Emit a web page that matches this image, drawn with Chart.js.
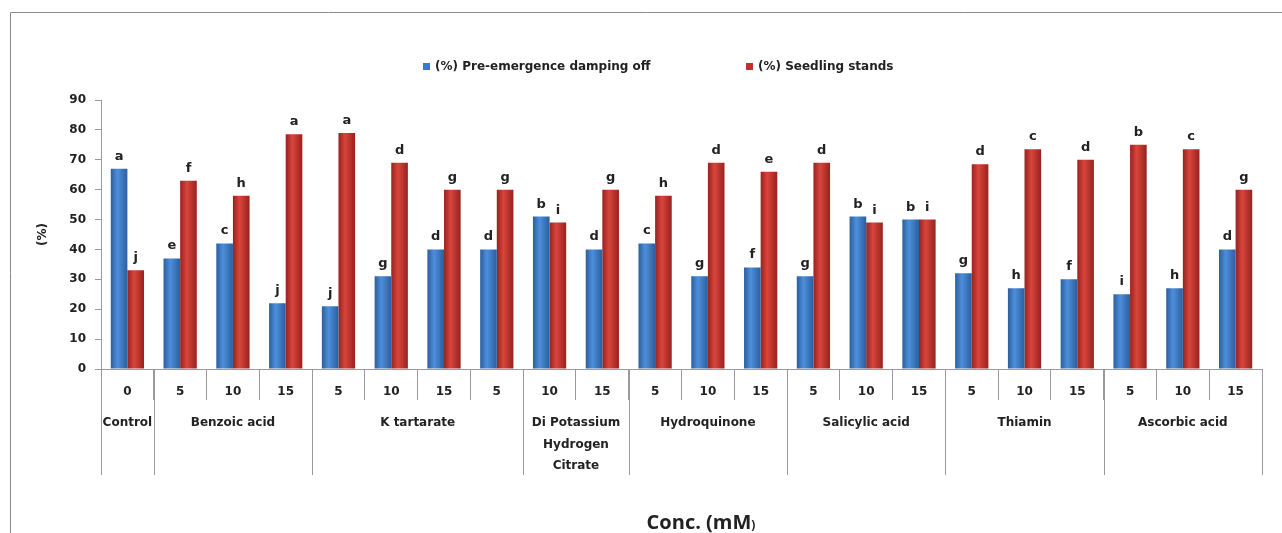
<!DOCTYPE html>
<html><head><meta charset="utf-8">
<script src="https://cdn.jsdelivr.net/npm/chart.js@4/dist/chart.umd.min.js"></script>
<style>html,body{margin:0;padding:0;background:#fff}#wrap{width:1282px;height:533px;position:relative}</style>
</head><body><div id="wrap"><canvas id="c" width="1282" height="533"></canvas></div>
<script>
// ---- data ----
const doses = ['0','5','10','15','5','10','15','5','10','15','5','10','15','5','10','15','5','10','15','5','10','15'];
const groupNames = [['Control'],['Benzoic acid'],['K tartarate'],['Di Potassium','Hydrogen','Citrate'],['Hydroquinone'],['Salicylic acid'],['Thiamin'],['Ascorbic acid']];
const groupSizes = [1,3,4,2,3,3,3,3];
const seriesNames = ['(%) Pre-emergence damping off','(%) Seedling stands'];
const dampingOff = [67,37,42,22,21,31,40,40,51,40,42,31,34,31,51,50,32,27,30,25,27,40];
const seedlingStands = [33,63,58,78.5,79,69,60,60,49,60,58,69,66,69,49,50,68.5,73.5,70,75,73.5,60];
const dampingLetters = ['a','e','c','j','j','g','d','d','b','d','c','g','f','g','b','b','g','h','f','i','h','d'];
const standLetters = ['j','f','h','a','a','d','g','g','i','g','h','d','e','d','i','i','d','c','d','b','c','g'];
const yMin = 0, yMax = 90, yStep = 10;
const yTitle = '(%)';
const xTitle = 'Conc. (mM';
const xTitleTail = ')';

const CAT_PCT = 0.63;
const FONT = '"DejaVu Sans", sans-serif';
const TXT = '#222';
const GRID = '#9a9a9a';

function barFill(base, dark, light, side) {
  return (ctx) => {
    const chart = ctx.chart;
    const xs = chart.scales && chart.scales.x;
    if (!xs || ctx.dataIndex === undefined || !xs.width) return base;
    const c = xs.getPixelForValue(ctx.dataIndex);
    const bw = (xs.width / doses.length) * CAT_PCT / 2;
    const l = side === 0 ? c - bw : c;
    const g = chart.ctx.createLinearGradient(l, 0, l + bw, 0);
    g.addColorStop(0, dark);
    g.addColorStop(0.4, light);
    g.addColorStop(1, dark);
    return g;
  };
}

const blue = {base:'#3a78c8', dark:'#2b5e9f', light:'#4d8fdb'};
const red = {base:'#c0312c', dark:'#98221e', light:'#d8453c'};

const decor = {
  id: 'decor',
  afterDatasetsDraw(chart) {
    const ctx = chart.ctx;
    ctx.save();
    ctx.font = 'bold 13px ' + FONT;
    ctx.fillStyle = TXT;
    ctx.textAlign = 'center';
    ctx.textBaseline = 'alphabetic';
    const letters = [dampingLetters, standLetters];
    chart.data.datasets.forEach((ds, di) => {
      const meta = chart.getDatasetMeta(di);
      meta.data.forEach((el, i) => {
        ctx.fillText(letters[di][i], el.x, el.y - 9);
      });
    });
    ctx.restore();
  },
  afterDraw(chart) {
    const ctx = chart.ctx;
    const xs = chart.scales.x;
    const ca = chart.chartArea;
    ctx.save();
    // outer frame
    ctx.strokeStyle = '#8a8a8a';
    ctx.lineWidth = 1;
    ctx.beginPath();
    ctx.moveTo(10.5, 533); ctx.lineTo(10.5, 12.5); ctx.lineTo(1282, 12.5);
    ctx.stroke();

    // group separators and labels
    const half = (xs.getPixelForValue(1) - xs.getPixelForValue(0)) / 2;
    let idx = 0;
    ctx.strokeStyle = GRID;
    ctx.font = 'bold 12px ' + FONT;
    ctx.fillStyle = TXT;
    ctx.textAlign = 'center';
    ctx.textBaseline = 'middle';
    const drawSep = (x) => {
      ctx.beginPath();
      ctx.moveTo(Math.round(x) + 0.5, ca.bottom);
      ctx.lineTo(Math.round(x) + 0.5, 475);
      ctx.stroke();
    };
    drawSep(xs.getPixelForValue(0) - half);
    groupSizes.forEach((n, g) => {
      const left = xs.getPixelForValue(idx) - half;
      const right = xs.getPixelForValue(idx + n - 1) + half;
      drawSep(right);
      groupNames[g].forEach((line, k) => {
        ctx.fillText(line, (left + right) / 2, 423 + k * 21.5);
      });
      idx += n;
    });

    // legend
    const legendItems = [
      {text: seriesNames[0], color: blue.base, x: 423},
      {text: seriesNames[1], color: red.base, x: 746}
    ];
    ctx.font = 'bold 12px ' + FONT;
    ctx.textAlign = 'left';
    legendItems.forEach(it => {
      ctx.fillStyle = it.color;
      ctx.fillRect(it.x, 63, 7, 7);
      ctx.fillStyle = TXT;
      ctx.fillText(it.text, it.x + 12, 66.5);
    });

    // x title
    ctx.font = 'bold 20px "Open Sans", sans-serif';
    const w1 = ctx.measureText(xTitle).width;
    ctx.font = 'bold 12px "Open Sans", sans-serif';
    const w2 = ctx.measureText(xTitleTail).width;
    const start = 701 - (w1 + w2) / 2;
    ctx.fillStyle = TXT;
    ctx.textBaseline = 'alphabetic';
    ctx.font = 'bold 20px "Open Sans", sans-serif';
    ctx.fillText(xTitle, start, 529);
    ctx.font = 'bold 12px "Open Sans", sans-serif';
    ctx.fillText(xTitleTail, start + w1, 529);
    ctx.restore();
  }
};

new Chart(document.getElementById('c'), {
  type: 'bar',
  data: {
    labels: doses,
    datasets: [
      {label: seriesNames[0], data: dampingOff, backgroundColor: barFill(blue.base, blue.dark, blue.light, 0), borderWidth: 0},
      {label: seriesNames[1], data: seedlingStands, backgroundColor: barFill(red.base, red.dark, red.light, 1), borderWidth: 0}
    ]
  },
  options: {
    responsive: false,
    animation: false,
    devicePixelRatio: 1,
    categoryPercentage: CAT_PCT,
    barPercentage: 1.0,
    layout: {padding: {top: 100, right: 20, bottom: 0, left: 0}},
    plugins: {legend: {display: false}, tooltip: {enabled: false}},
    scales: {
      x: {
        type: 'category',
        offset: true,
        grid: {display: true, drawOnChartArea: false, drawTicks: true, tickLength: 31, color: GRID, offset: true},
        border: {display: true, color: GRID},
        ticks: {font: {family: FONT, size: 12, weight: 'bold'}, color: TXT, padding: -15, maxRotation: 0, autoSkip: false},
        afterFit: (s) => { s.height = 164; }
      },
      y: {
        min: yMin, max: yMax,
        ticks: {stepSize: yStep, font: {family: FONT, size: 12, weight: 'bold'}, color: TXT, padding: 9},
        grid: {display: true, drawOnChartArea: false, drawTicks: true, tickLength: 6, color: GRID},
        border: {display: true, color: GRID},
        title: {display: true, text: yTitle, font: {family: FONT, size: 12, weight: 'bold'}, color: TXT, padding: {top: 36, bottom: 0}},
        afterFit: (s) => { s.width = 101; }
      }
    }
  },
  plugins: [decor]
});
</script>
</body></html>
